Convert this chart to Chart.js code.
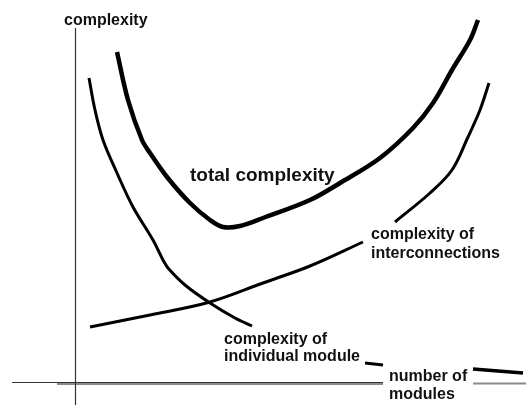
<!DOCTYPE html>
<html>
<head>
<meta charset="utf-8">
<script src="https://cdn.jsdelivr.net/npm/chart.js@4"></script>
<style>
  html, body { margin: 0; padding: 0; background: #fff; }
  canvas { display: block; }
</style>
</head>
<body>
<canvas id="chart" width="526" height="405"></canvas>
<script>
// curves (x = number of modules, y = complexity)
const individualX = [1.4, 2.0, 2.8, 4.2, 5.8, 7.8, 8.8, 9.3, 11.0, 13.5, 16.0, 17.7];
const individualY = [30.4, 27.2, 24.2, 20.9, 17.5, 14.2, 12.2, 11.4, 9.7, 7.9, 6.4, 5.6];

const totalX = [4.2, 5.3, 6.7, 7.5, 9.2, 11.5, 13.5, 14.8, 16.5, 18.8, 23.5, 26.5, 30.5, 33.8, 35.8, 37.7, 39.5, 40.3];
const totalY = [33.0, 28.2, 24.2, 22.9, 20.5, 17.9, 16.2, 15.5, 15.6, 16.4, 18.2, 19.9, 22.4, 25.4, 27.9, 31.2, 34.2, 36.2];

// null = where the curve is broken by the label
const interX = [1.5, 7.5, 13.5, 18.8, 23.5, 28.8, null, 32.0, 35.5, 37.7, 39.3, 40.5, 41.4];
const interY = [5.5, 6.7, 8.0, 9.9, 11.6, 14.0, null, 16.0, 18.9, 21.2, 24.5, 27.2, 29.9];

// little stray strokes near the x axis
const stub1X = [29.0, 30.8];
const stub1Y = [1.9, 1.7];
const stub2X = [39.8, 44.8];
const stub2Y = [1.3, 0.9];

const labels = [
  { text: "complexity", x: -1.1, y: 36.1, size: 16 },
  { text: "total complexity", x: 11.5, y: 20.6, size: 19 },
  { text: "complexity of", x: 29.6, y: 14.7, size: 16 },
  { text: "interconnections", x: 29.6, y: 12.8, size: 16 },
  { text: "complexity of", x: 14.9, y: 4.2, size: 16 },
  { text: "individual module", x: 14.9, y: 2.5, size: 16 },
  { text: "number of", x: 31.4, y: 0.5, size: 16 },
  { text: "modules", x: 31.4, y: -1.3, size: 16 }
];

function toPoints(xs, ys) {
  return xs.map((x, i) => (x === null ? { x: NaN, y: NaN } : { x: x, y: ys[i] }));
}

function line(xs, ys, width) {
  return {
    data: toPoints(xs, ys),
    showLine: true,
    borderColor: "#000",
    borderWidth: width,
    pointRadius: 0,
    tension: 0.35,
    spanGaps: false,
    borderCapStyle: "butt"
  };
}

// hand-drawn axes and the text labels
const sketchPlugin = {
  id: "sketch",
  beforeDatasetsDraw(chart) {
    const ctx = chart.ctx;
    const xs = chart.scales.x;
    const ys = chart.scales.y;
    const px = v => xs.getPixelForValue(v);
    const py = v => ys.getPixelForValue(v);
    ctx.save();
    // grey shadow under the x axis
    ctx.strokeStyle = "#8a8a8a";
    ctx.lineWidth = 2;
    ctx.beginPath();
    ctx.moveTo(px(-1.8), py(-0.15) + 0.5);
    ctx.lineTo(px(30.8), py(-0.15) + 0.5);
    ctx.moveTo(px(39.8), py(-0.1) + 0.5);
    ctx.lineTo(px(45.1), py(-0.1) + 0.5);
    ctx.stroke();
    // x axis
    ctx.strokeStyle = "#333";
    ctx.lineWidth = 1.2;
    ctx.beginPath();
    ctx.moveTo(px(-6.3), py(0) + 0.5);
    ctx.lineTo(px(30.8), py(0) + 0.5);
    ctx.stroke();
    // y axis
    ctx.beginPath();
    ctx.moveTo(px(0) + 0.5, py(35.4));
    ctx.lineTo(px(0) + 0.5, py(-2.3));
    ctx.stroke();
    ctx.restore();
  },
  afterDatasetsDraw(chart) {
    const ctx = chart.ctx;
    const xs = chart.scales.x;
    const ys = chart.scales.y;
    ctx.save();
    ctx.fillStyle = "#111";
    ctx.textBaseline = "middle";
    ctx.textAlign = "left";
    labels.forEach(l => {
      ctx.font = "bold " + l.size + "px 'Liberation Sans', Arial, sans-serif";
      ctx.fillText(l.text, xs.getPixelForValue(l.x), ys.getPixelForValue(l.y));
    });
    ctx.restore();
  }
};

new Chart(document.getElementById("chart"), {
  type: "scatter",
  data: {
    datasets: [
      line(totalX, totalY, 4.5),
      line(individualX, individualY, 3),
      line(interX, interY, 3),
      line(stub1X, stub1Y, 3),
      line(stub2X, stub2Y, 3.5)
    ]
  },
  options: {
    responsive: false,
    animation: false,
    layout: { padding: 0 },
    plugins: {
      legend: { display: false },
      tooltip: { enabled: false }
    },
    scales: {
      x: { type: "linear", display: false, min: -7.5, max: 45.1 },
      y: { type: "linear", display: false, min: -2.3, max: 38.2 }
    }
  },
  plugins: [sketchPlugin]
});
</script>
</body>
</html>
